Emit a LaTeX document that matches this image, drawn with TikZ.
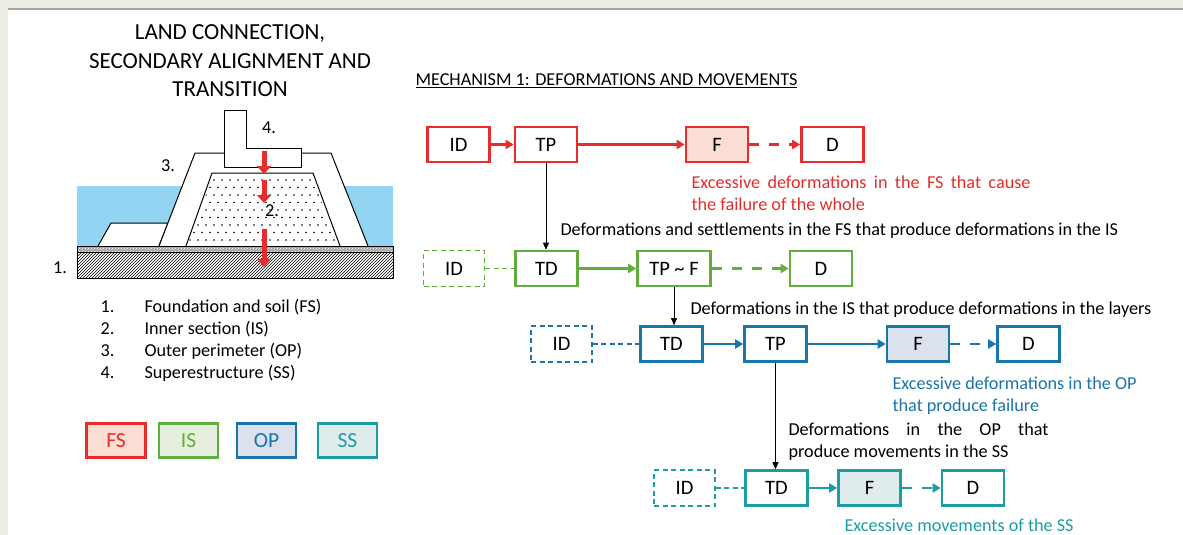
\documentclass[tikz,border=0pt]{standalone}
\usepackage{fontspec}
\setmainfont{Carlito}
\usepackage{xcolor}
\usetikzlibrary{arrows.meta,patterns}

\definecolor{fsred}{HTML}{E52D2D}
\definecolor{isgreen}{HTML}{62AE3C}
\definecolor{opblue}{HTML}{1A75A8}
\definecolor{ssteal}{HTML}{1B9DA3}
\definecolor{fsfill}{HTML}{FADDD3}
\definecolor{isfill}{HTML}{E6EFDE}
\definecolor{opfill}{HTML}{DCE1EE}
\definecolor{ssfill}{HTML}{E0ECEC}
\definecolor{water}{HTML}{92D4F2}
\definecolor{pagebg}{HTML}{ECEEE4}

\begin{document}
\begin{tikzpicture}[x=1pt,y=-1pt,font=\fontsize{18.2}{22}\selectfont,
  blk/.style={draw,line width=2.6pt,minimum width=62pt,minimum height=35pt,inner sep=0pt,font=\fontsize{20.5}{24}\selectfont},
  idbox/.style={draw,line width=1.3pt,dash pattern=on 5pt off 3.5pt,minimum width=61pt,minimum height=36pt,inner sep=0pt,font=\fontsize{20.5}{24}\selectfont},
  flow/.style={line width=2.6pt,-{Triangle[length=8pt,width=9pt]}},
  later/.style={flow,dash pattern=on 10pt off 10pt},
  idlink/.style={line width=1.3pt,dash pattern=on 5pt off 3.5pt},
  cause/.style={line width=0.7pt,-{Triangle[length=7pt,width=6pt]}},
  key/.style={draw,line width=2.6pt,minimum width=59pt,minimum height=34pt,inner sep=0pt,font=\fontsize{21.5}{26}\selectfont},
  load/.style={fsred,line width=5pt,-{Triangle[length=8pt,width=14pt]}}]
\useasboundingbox (0,0) rectangle (1183,535);
\fill[pagebg] (0,0) rectangle (1183,535);
\fill[white] (8,10) rectangle (1183,535);
\draw[black!35,line width=2pt] (8,9) -- (1183,9);

% cross-section
\node[align=center,font=\fontsize{23}{28.5}\selectfont] (title) at (230,61) {LAND CONNECTION,\\SECONDARY ALIGNMENT AND\\TRANSITION};
\fill[water] (77,186) rectangle (393,246);
\draw[fill=white,line width=1pt] (98,246) -- (111,223) -- (168,223) -- (159,246);
\draw[fill=white,line width=1pt] (159,246) -- (195,153) -- (331,153) -- (368,246);
\draw[fill=white,line width=1pt] (186,246) -- (212,173) -- (313,173) -- (340,246);
\begin{scope}
\clip (188,244) -- (213,175) -- (312,175) -- (338,244) -- cycle;
\foreach \r in {0,...,9}
  \foreach \c in {0,...,20}
    \fill ({182+8*\c+4*mod(\r,2)},{180+7.5*\r}) circle (0.8);
\end{scope}
\draw[fill=white,line width=1pt] (224,167) -- (224,110) -- (246,110) -- (246,148) -- (301,148) -- (301,167) -- cycle;
\fill[black!35] (77,246) rectangle (393,252);
\fill[pattern=crosshatch dots,pattern color=white] (77,246) rectangle (393,252);
\draw[line width=1pt] (77,246) rectangle (393,252);
\draw[line width=1pt,pattern=north east lines] (77,252) rectangle (393,278);
\draw[load] (264,151) -- (264,174);
\draw[load] (264,180) -- (264,203);
\draw[load] (264,229) -- (264,267);
\node (n1) at (60,268) {1.};
\node (n2) at (272,211) {2.};
\node (n3) at (168,166) {3.};
\node (n4) at (269,128) {4.};

% parts and colour key
\foreach \i/\part in {1/Foundation and soil (FS),2/Inner section (IS),3/Outer perimeter (OP),4/Superestructure (SS)}{
  \node[anchor=west] (num\i) at (97,{285+22*\i}) {\i.};
  \node[anchor=west] (part\i) at (141,{285+22*\i}) {\part};
}
\node[key,draw=fsred,fill=fsfill,text=fsred] (kfs) at (116,440.5) {FS};
\node[key,draw=isgreen,fill=isfill,text=isgreen] (kis) at (188.5,440.5) {IS};
\node[key,draw=opblue,fill=opfill,text=opblue] (kop) at (266.5,440.5) {OP};
\node[key,draw=ssteal,fill=ssfill,text=ssteal] (kss) at (347.5,440.5) {SS};

% mechanism 1
\node[anchor=west] (mech) at (412,81) {\underline{MECHANISM 1: DEFORMATIONS AND MOVEMENTS}};

% FS row
\node[blk,draw=fsred] (id1) at (458.5,144.5) {ID};
\node[blk,draw=fsred] (tp1) at (546,144.5) {TP};
\node[blk,draw=fsred,fill=fsfill] (f1) at (717,144.5) {F};
\node[blk,draw=fsred] (d1) at (832.5,144.5) {D};
\draw[flow,fsred] (id1) -- (tp1);
\draw[flow,fsred] (tp1) -- (f1);
\draw[later,fsred] (f1) -- (d1);
\node[anchor=west,align=left,text=fsred] (e1) at (688,193) {\makebox[339pt][s]{Excessive deformations in the FS that cause}\\the failure of the whole};

% IS row
\node[anchor=west] (c1) at (557,231) {Deformations and settlements in the FS that produce deformations in the IS};
\node[idbox,draw=isgreen] (id2) at (454,268.5) {ID};
\node[blk,draw=isgreen] (td2) at (546.5,268.5) {TD};
\node[blk,draw=isgreen,minimum width=73pt] (tpf2) at (674,268.5) {TP \textasciitilde{} F};
\node[blk,draw=isgreen] (d2) at (821,268.5) {D};
\draw[cause] (tp1.south) -- (tp1.south |- td2.north);
\draw[idlink,isgreen] (id2) -- (td2);
\draw[flow,isgreen] (td2) -- (tpf2);
\draw[later,isgreen] (tpf2) -- (d2);

% OP row
\node[anchor=west] (c2) at (687,310) {Deformations in the IS that produce deformations in the layers};
\node[idbox,draw=opblue] (id3) at (561.5,344) {ID};
\node[blk,draw=opblue] (td3) at (671.5,344) {TD};
\node[blk,draw=opblue] (tp3) at (775.5,344) {TP};
\node[blk,draw=opblue,fill=opfill] (f3) at (918,344) {F};
\node[blk,draw=opblue] (d3) at (1028.5,344) {D};
\draw[cause] (tpf2.south) -- (tpf2.south |- td3.north);
\draw[idlink,opblue] (id3) -- (td3);
\draw[flow,opblue] (td3) -- (tp3);
\draw[flow,opblue] (tp3) -- (f3);
\draw[later,opblue] (f3) -- (d3);
\node[anchor=west,align=left,text=opblue] (e3) at (889,395.5) {Excessive deformations in the OP\\that produce failure};

% SS row
\node[anchor=west,align=left] (c3) at (785,442) {\makebox[260pt][s]{Deformations in the OP that}\\produce movements in the SS};
\node[idbox,draw=ssteal] (id4) at (684.5,488) {ID};
\node[blk,draw=ssteal] (td4) at (776.5,488) {TD};
\node[blk,draw=ssteal,fill=ssfill] (f4) at (869.5,488) {F};
\node[blk,draw=ssteal] (d4) at (973,488) {D};
\draw[cause] (tp3.south) -- (tp3.south |- td4.north);
\draw[idlink,ssteal] (id4) -- (td4);
\draw[flow,ssteal] (td4) -- (f4);
\draw[later,ssteal] (f4) -- (d4);
\node[anchor=west,text=ssteal] (e4) at (841,525) {Excessive movements of the SS};
\end{tikzpicture}
\end{document}
